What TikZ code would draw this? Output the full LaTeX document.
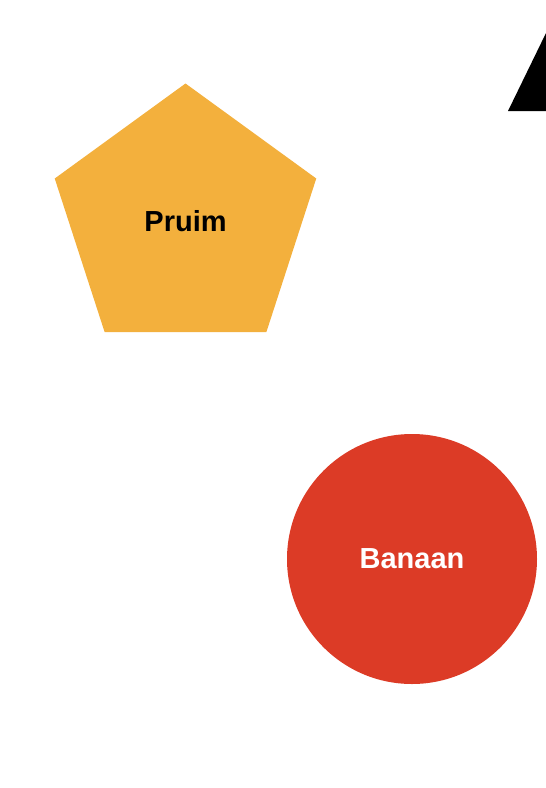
\documentclass[tikz,border=0pt]{standalone}
\usepackage{fontspec}
\setmainfont{Liberation Sans}
\usepackage{xcolor}
\usetikzlibrary{positioning, shapes.geometric}

\definecolor{pruimgeel}{HTML}{F3B03D}
\definecolor{banaanrood}{HTML}{DC3B26}

\begin{document}
\begin{tikzpicture}[x=1pt, y=-1pt, font=\fontsize{29}{33}\selectfont\bfseries]
  \useasboundingbox (0,0) rectangle (546,788);
  \clip (0,0) rectangle (546,788);

  \node (pruim) [regular polygon, regular polygon sides=5, fill=pruimgeel, inner sep=0pt, minimum size=275pt] at (185.5,221) {Pruim};

  \node (banaan) [circle, fill=banaanrood, text=white, inner sep=0pt, minimum size=250pt] at (412,559) {Banaan};

  % triangle at the top right, cut by the edge
  \fill[black] (508,111) -- (546,33) -- (590,111) -- cycle;
\end{tikzpicture}
\end{document}
